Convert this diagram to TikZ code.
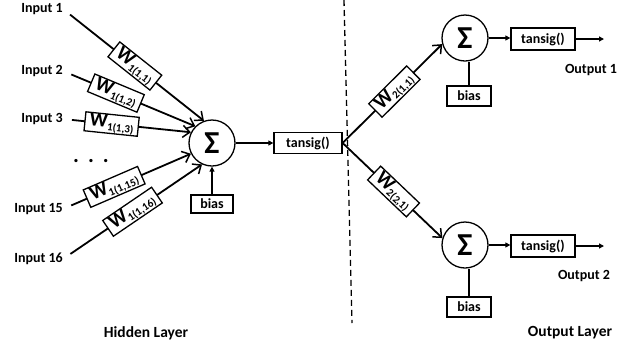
\documentclass[tikz,border=0pt]{standalone}
\usepackage{fontspec}
\setmainfont{Carlito}
\usetikzlibrary{arrows.meta}
\newcommand\wlab[1]{{\fontsize{20}{20}\selectfont\bfseries W}\raisebox{-3pt}{\fontsize{11}{11}\selectfont\bfseries #1}}
\begin{document}
\begin{tikzpicture}[x=1pt,y=-1pt,
  lbl/.style={font=\fontsize{14}{15}\selectfont\bfseries, inner sep=0pt},
  layer/.style={font=\fontsize{15.5}{16}\selectfont\bfseries, inner sep=0pt},
  sumnode/.style={draw, circle, line width=1.3pt, minimum size=46pt, inner sep=0pt, font=\fontsize{32}{32}\selectfont\bfseries},
  box/.style={draw, line width=1.3pt, fill=white, font=\fontsize{14}{15}\selectfont\bfseries, inner sep=0pt},
  biasbox/.style={box, minimum width=44pt, minimum height=20pt},
  tanbox/.style={box, minimum width=64pt, minimum height=22pt},
  wbox/.style={draw, line width=1.3pt, fill=white, sloped, inner xsep=4.5pt, inner ysep=0pt, minimum height=19pt},
  conn/.style={line width=1.8pt},
  inarrow/.style={conn, -{Straight Barb[length=7pt,width=12pt,line width=1.5pt]}},
  farrow/.style={conn, -{Triangle[length=5pt,width=5pt]}},
]
\useasboundingbox (0,0) rectangle (638,349);

% dashed separator
\coordinate (d1) at (344,0);
\coordinate (d2) at (352,323);
\draw[line width=1.3pt, dash pattern=on 6pt off 4pt] (d1) -- (d2);

% hidden layer
\node[sumnode] (s1) at (212,143) {Σ};
\node[biasbox, minimum width=42pt, minimum height=18pt] (b1) at (212,204) {bias};
\node[tanbox, minimum width=68pt, minimum height=21pt] (t1) at (308,143) {tansig()};

% inputs
\node[lbl, anchor=east] (i1) at (63,9) {Input 1};
\node[lbl, anchor=east] (i2) at (63,71) {Input 2};
\node[lbl, anchor=east] (i3) at (63,119) {Input 3};
\node[lbl, anchor=east] (i15) at (63,209) {Input 15};
\node[lbl, anchor=east] (i16) at (63,259) {Input 16};
\node[font=\fontsize{22}{22}\selectfont\bfseries, inner sep=0pt, anchor=base] (dots) at (91,162) {.\hspace{9pt}.\hspace{9pt}.};

\draw[inarrow, shorten <=9pt] (i1.east) -- node[wbox,pos=0.51]{\wlab{1(1,1)}} (s1.110);
\draw[inarrow, shorten <=9pt] (i2.east) -- node[wbox,pos=0.40]{\wlab{1(1,2)}} (s1.135);
\draw[inarrow, shorten <=9pt] (i3.east) -- node[wbox,pos=0.38]{\wlab{1(1,3)}} (s1.153);
\draw[inarrow, shorten <=9pt] (i15.east) -- node[wbox,pos=0.40]{\wlab{1(1,15)}} (s1.207);
\draw[inarrow, shorten <=9pt] (i16.east) -- node[wbox,pos=0.50]{\wlab{1(1,16)}} (s1.245);

\draw[farrow] (b1) -- (s1);
\draw[farrow] (s1) -- (t1);

% output layer
\node[sumnode] (s2) at (465,38) {Σ};
\node[biasbox] (b2) at (469,96) {bias};
\node[tanbox] (t2) at (543,39) {tansig()};
\coordinate (o1) at (604,39);
\node[lbl] (ol1) at (591,70) {Output 1};

\node[sumnode] (s3) at (465,245) {Σ};
\node[biasbox] (b3) at (469,307) {bias};
\node[tanbox] (t3) at (543,246) {tansig()};
\coordinate (o2) at (604,246);
\node[lbl] (ol2) at (584,276) {Output 2};

\draw[inarrow] (t1.east) -- node[wbox,pos=0.52]{\wlab{2(1,1)}} (s2.195);
\draw[inarrow] (t1.east) -- node[wbox,pos=0.51]{\wlab{2(2,1)}} (s3.163);

\draw[conn] (b2) -- (b2 |- s2.south);
\draw[conn] (b3) -- (b3 |- s3.south);
\draw[farrow] (s2.east) -- (s2.east -| t2.west);
\draw[farrow] (s3.east) -- (s3.east -| t3.west);
\draw[farrow] (t2) -- (o1);
\draw[farrow] (t3) -- (o2);

% layer labels
\node[layer] (hl) at (146,333) {Hidden Layer};
\node[layer] (ol) at (570,333) {Output Layer};
\end{tikzpicture}
\end{document}
